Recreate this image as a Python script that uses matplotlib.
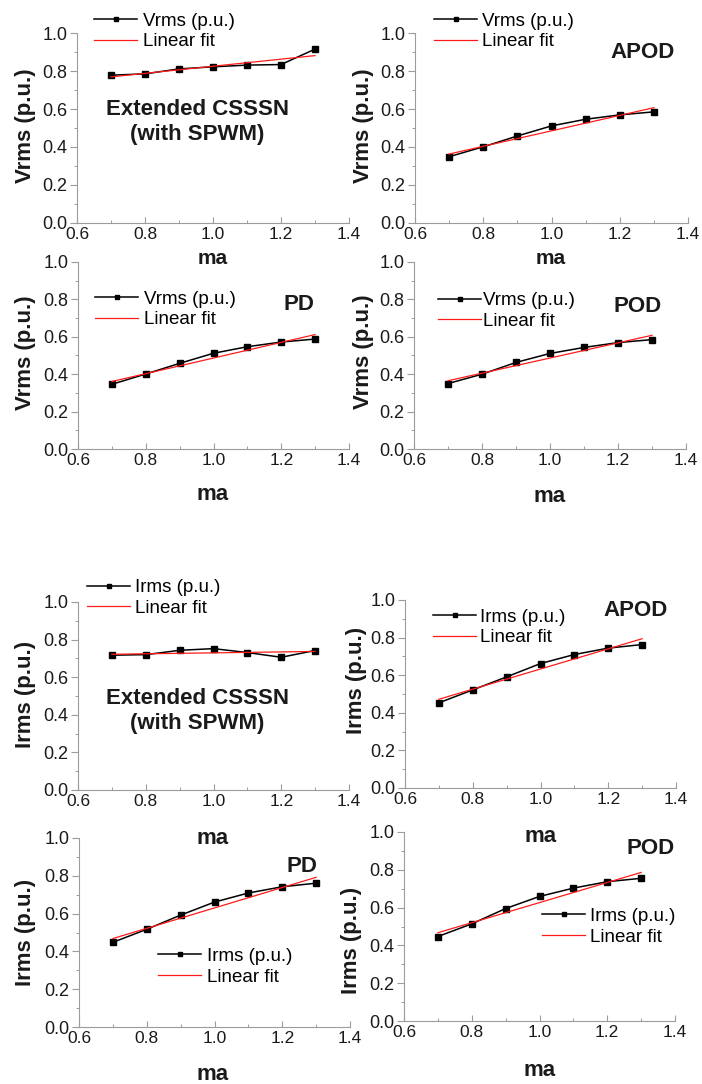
import matplotlib

matplotlib.use("Agg")

import matplotlib.pyplot as plt
from matplotlib.ticker import FormatStrFormatter, MultipleLocator

plt.rcParams["font.family"] = ["Liberation Sans", "DejaVu Sans"]

W, H = 702, 1084
AXIS_GRAY = "#9c9c9c"
TEXT_COLOR = "#1a1a1a"

# modulation index, shared by all panels
ma = [0.7, 0.8, 0.9, 1.0, 1.1, 1.2, 1.3]
fit_ma = [0.7, 1.3]

vrms_csssn = [0.778, 0.785, 0.811, 0.822, 0.831, 0.834, 0.915]
vrms_csssn_fit = [0.769, 0.881]
vrms_apod = [0.349, 0.401, 0.458, 0.511, 0.546, 0.569, 0.585]
vrms_apod_fit = [0.363, 0.607]
vrms_pd = [0.346, 0.401, 0.458, 0.512, 0.547, 0.572, 0.588]
vrms_pd_fit = [0.361, 0.612]
vrms_pod = [0.350, 0.400, 0.463, 0.511, 0.543, 0.569, 0.585]
vrms_pod_fit = [0.365, 0.608]

irms_csssn = [0.717, 0.720, 0.743, 0.752, 0.731, 0.706, 0.742]
irms_csssn_fit = [0.722, 0.737]
irms_apod = [0.453, 0.522, 0.591, 0.662, 0.710, 0.744, 0.763]
irms_apod_fit = [0.472, 0.794]
irms_pd = [0.448, 0.517, 0.592, 0.661, 0.709, 0.742, 0.761]
irms_pd_fit = [0.468, 0.792]
irms_pod = [0.447, 0.514, 0.595, 0.659, 0.703, 0.737, 0.755]
irms_pod_fit = [0.467, 0.786]

CSSSN_TAG = "Extended CSSSN\n(with SPWM)"

# layout in pixels of the composite picture: box = (left, top, right, bottom)
PANELS = [
    dict(box=(77, 33, 349, 223), y=vrms_csssn, fit=vrms_csssn_fit,
         name="Vrms (p.u.)", ylab=(25, 126), xlab=(213, 258, 15),
         leg=(94, 31.5), pad=0.3, tag=(CSSSN_TAG, 197, 122)),
    dict(box=(415, 33, 688, 223), y=vrms_apod, fit=vrms_apod_fit,
         name="Vrms (p.u.)", ylab=(364, 126), xlab=(551, 258, 15),
         leg=(434, 31.5), pad=0.25, tag=("APOD", 643, 52)),
    dict(box=(78, 262, 349, 449), y=vrms_pd, fit=vrms_pd_fit,
         name="Vrms (p.u.)", ylab=(25, 353), xlab=(213, 495, 16),
         leg=(95, 309.5), pad=0.3, tag=("PD", 299, 304)),
    dict(box=(414, 262, 686, 449), y=vrms_pod, fit=vrms_pod_fit,
         name="Vrms (p.u.)", ylab=(363, 352), xlab=(550, 497, 16),
         leg=(438, 311), pad=0.1, tag=("POD", 638, 307)),
    dict(box=(78, 602, 349, 790), y=irms_csssn, fit=irms_csssn_fit,
         name="Irms (p.u.)", ylab=(25, 694), xlab=(213, 838, 16),
         leg=(87, 598), pad=0.25, tag=(CSSSN_TAG, 197, 711)),
    dict(box=(405, 600, 676, 788), y=irms_apod, fit=irms_apod_fit,
         name="Irms (p.u.)", ylab=(356, 680), xlab=(541, 837, 16),
         leg=(433, 627.5), pad=0.2, tag=("APOD", 636, 611)),
    dict(box=(79, 838, 350, 1027), y=irms_pd, fit=irms_pd_fit,
         name="Irms (p.u.)", ylab=(25, 932), xlab=(213, 1075, 16),
         leg=(158, 966.5), pad=0.3, tag=("PD", 302, 867)),
    dict(box=(404, 832, 675, 1021), y=irms_pod, fit=irms_pod_fit,
         name="Irms (p.u.)", ylab=(351, 940), xlab=(540, 1070, 16),
         leg=(542, 926.5), pad=0.25, tag=("POD", 651, 849)),
]


def fx(x):
    return x / W


def fy(y):
    return 1 - y / H


def draw_panel(fig, spec):
    left, top, right, bottom = spec["box"]
    ax = fig.add_axes([fx(left), fy(bottom), (right - left) / W, (bottom - top) / H])
    ax.patch.set_alpha(0)

    data_line, = ax.plot(ma, spec["y"], color="black", linewidth=1.1,
                         marker="s", markersize=4.2, zorder=3)
    fit_line, = ax.plot(fit_ma, spec["fit"], color="#ff1a1a", linewidth=0.9, zorder=4)

    ax.set_xlim(0.6, 1.4)
    ax.set_ylim(0.0, 1.0)
    ax.xaxis.set_major_locator(MultipleLocator(0.2))
    ax.xaxis.set_minor_locator(MultipleLocator(0.1))
    ax.yaxis.set_major_locator(MultipleLocator(0.2))
    ax.yaxis.set_minor_locator(MultipleLocator(0.1))
    ax.xaxis.set_major_formatter(FormatStrFormatter("%.1f"))
    ax.yaxis.set_major_formatter(FormatStrFormatter("%.1f"))

    for side in ("top", "right"):
        ax.spines[side].set_visible(False)
    for side in ("left", "bottom"):
        ax.spines[side].set_color(AXIS_GRAY)
        ax.spines[side].set_linewidth(0.8)

    ax.tick_params(axis="y", which="major", direction="out", length=5, width=0.8,
                   color=AXIS_GRAY, pad=2, labelsize=13, labelcolor=TEXT_COLOR)
    ax.tick_params(axis="y", which="minor", direction="out", length=2.5, width=0.7,
                   color=AXIS_GRAY)
    ax.tick_params(axis="x", which="major", direction="in", length=4, width=0.8,
                   color=AXIS_GRAY, pad=3, labelsize=12.5, labelcolor=TEXT_COLOR)
    ax.tick_params(axis="x", which="minor", direction="in", length=2.5, width=0.7,
                   color=AXIS_GRAY)

    ax.legend(
        [data_line, fit_line],
        [spec["name"], "Linear fit"],
        loc="center left",
        bbox_to_anchor=(fx(spec["leg"][0]), fy(spec["leg"][1])),
        bbox_transform=fig.transFigure,
        frameon=False,
        fontsize=13.5,
        handlelength=2.3,
        handletextpad=spec["pad"],
        labelspacing=0.2,
        borderpad=0,
        borderaxespad=0,
        markerscale=0.65,
    )

    fig.text(fx(spec["ylab"][0]), fy(spec["ylab"][1]), spec["name"], rotation=90,
             ha="center", va="center", fontsize=16, fontweight="bold",
             color=TEXT_COLOR)
    xl_x, xl_y, xl_size = spec["xlab"]
    fig.text(fx(xl_x), fy(xl_y), "ma", ha="center", va="center",
             fontsize=xl_size, fontweight="bold", color=TEXT_COLOR)

    tag, tx, ty = spec["tag"]
    fig.text(fx(tx), fy(ty), tag, ha="center", va="center", fontsize=16,
             fontweight="bold", linespacing=1.2, color=TEXT_COLOR)


fig = plt.figure(figsize=(W / 100, H / 100), dpi=100)
for panel in PANELS:
    draw_panel(fig, panel)

fig.savefig("out.png", dpi=100)
plt.close(fig)
